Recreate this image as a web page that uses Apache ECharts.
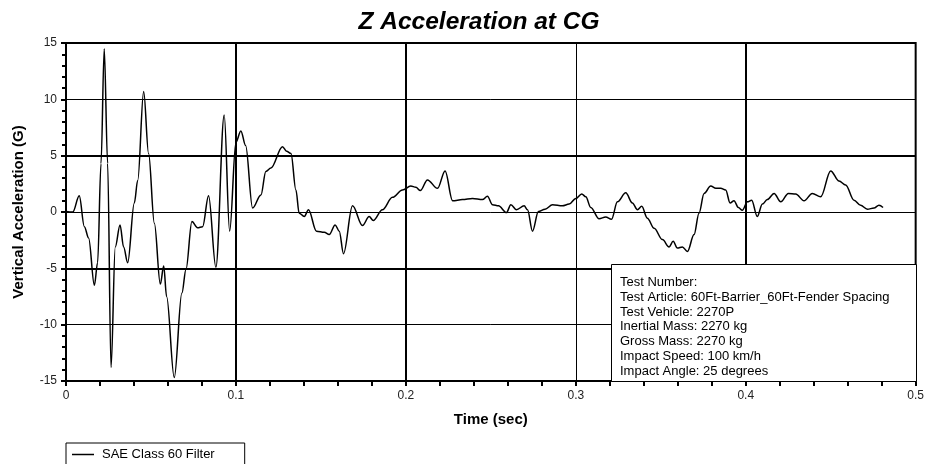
<!DOCTYPE html>
<html lang="en" style="height: 100%">
<head>
  <meta charset="UTF-8" />
  <title>Z Acceleration at CG</title>
  <script src="https://cdn.jsdelivr.net/npm/echarts@6/dist/echarts.min.js"></script>
</head>
<body style="height: 100%; margin: 0; background: #fff">
  <div id="container" style="width: 927px; height: 464px"></div>
  <script type="text/javascript">
    // time (sec) and vertical acceleration (G)
    var timeSec = [
      0, 0.004, 0.0078, 0.0108, 0.0133, 0.0167, 0.0186, 0.0206, 0.0225, 0.0245,
      0.0265, 0.029, 0.0318, 0.0339, 0.0363, 0.0402, 0.0422, 0.0457, 0.0486, 0.052,
      0.0555, 0.0575, 0.0592, 0.0637, 0.0682, 0.0706, 0.0741, 0.0774, 0.0804, 0.0839,
      0.0882, 0.0931, 0.0963, 0.1, 0.1029, 0.1057, 0.1098, 0.1147, 0.1176, 0.1206,
      0.1274, 0.1298, 0.1324, 0.1353, 0.1372, 0.1402, 0.1427, 0.1474, 0.152, 0.1549,
      0.1584, 0.1608, 0.1633, 0.1686, 0.1745, 0.1784, 0.1808, 0.1862, 0.1921, 0.198,
      0.2029, 0.2059, 0.2085, 0.2127, 0.2186, 0.2231, 0.2275, 0.2333, 0.2392, 0.2451,
      0.248, 0.251, 0.2545, 0.2592, 0.2618, 0.2651, 0.2696, 0.2716, 0.2745, 0.278,
      0.2819, 0.2863, 0.2921, 0.2961, 0.3, 0.3035, 0.3059, 0.3088, 0.3137, 0.3176,
      0.321, 0.3245, 0.3294, 0.3333, 0.3363, 0.3388, 0.3421, 0.3461, 0.351, 0.3549,
      0.3573, 0.3598, 0.3627, 0.3657, 0.3696, 0.3725, 0.3755, 0.3794, 0.3824, 0.3853,
      0.3882, 0.3908, 0.3931, 0.3957, 0.398, 0.401, 0.4035, 0.4068, 0.4098, 0.4127,
      0.4167, 0.4206, 0.4251, 0.4294, 0.4343, 0.4392, 0.4441, 0.45, 0.4549, 0.4588,
      0.4637, 0.4676, 0.4716, 0.4755, 0.4784, 0.4808
    ];
    var accelG = [
      0.05, 0, 1.44, -1.3, -2.3, -6.5, -4.5, 4.3, 14.5, 4.3,
      -13.8, -3.1, -1.15, -3.1, -4.5, 0.8, 2.8, 10.7, 5.2, -1.0,
      -6.4, -4.8, -7.5, -14.7, -7.2, -5.1, -0.85, -1.4, -1.3, 1.44,
      -4.9, 8.6, -1.7, 6.2, 7.2, 5.9, 0.35, 1.5, 3.6, 3.9,
      5.8, 5.4, 5.2, 1.95, -0.1, -0.4, 0.2, -1.7, -1.8, -2.0,
      -1.15, -1.7, -3.7, 0.55, -1.2, -0.4, -0.75, 0.2, 1.3, 1.95,
      2.3, 2.2, 1.9, 2.85, 2.1, 3.65, 1.0, 1.1, 1.2, 1.1,
      1.4, 0.65, 0.55, -0.05, 0.65, 0.2, 0.55, 0.2, -1.7, 0.05,
      0.25, 0.65, 0.55, 0.7, 1.2, 1.6, 1.35, 0.4, -0.6, -0.45,
      -0.65, 0.9, 1.7, 0.8, 0.2, 0.5, -0.55, -1.45, -2.45, -3.1,
      -2.6, -3.2, -3.1, -3.5, -2.0, -0.1, 1.65, 2.3, 2.1, 2.1,
      1.95, 0.8, 1.0, 0.4, 0.15, 0.9, 1.05, -0.4, 0.7, 1.1,
      1.65, 0.9, 1.65, 1.6, 1.0, 1.65, 1.35, 3.65, 2.75, 2.4,
      1.05, 0.6, 0.25, 0.35, 0.6, 0.4
    ];
    var thickXLines = [0.1, 0.2, 0.4];
    var thickYLines = [5, -5];
    var infoLines = [
      "Test Number:",
      "Test Article: 60Ft-Barrier_60Ft-Fender Spacing",
      "Test Vehicle: 2270P",
      "Inertial Mass: 2270 kg",
      "Gross Mass: 2270 kg",
      "Impact Speed: 100 km/h",
      "Impact Angle: 25 degrees"
    ];

    var font = "Liberation Sans, Arial, sans-serif";
    var dom = document.getElementById("container");
    var myChart = echarts.init(dom, null, { renderer: "canvas" });

    var seriesData = timeSec.map(function (t, i) { return [t, accelG[i]]; });
    var marks = [];
    thickXLines.forEach(function (v) { marks.push({ xAxis: v }); });
    thickYLines.forEach(function (v) { marks.push({ yAxis: v }); });

    var option = {
      animation: false,
      title: {
        text: "Z Acceleration at CG",
        left: 474, top: 5, textAlign: "center",
        textStyle: { fontFamily: font, fontSize: 24.5, fontWeight: "bold", fontStyle: "italic", color: "#000" }
      },
      grid: {
        left: 66, right: 10, top: 43, bottom: 83,
        show: true, borderColor: "#000", borderWidth: 2, backgroundColor: "transparent"
      },
      legend: {
        left: 66, top: 443,
        data: ["SAE Class 60 Filter"],
        icon: "rect", itemWidth: 22, itemHeight: 1.5, itemGap: 0,
        borderColor: "#000", borderWidth: 1, padding: [5, 30, 10, 6],
        textStyle: { fontFamily: font, fontSize: 13, color: "#000", padding: [0, 0, 0, 3] }
      },
      xAxis: {
        type: "value", min: 0, max: 0.5, interval: 0.1,
        name: "Time (sec)", nameLocation: "middle", nameGap: 31,
        nameTextStyle: { fontFamily: font, fontSize: 15, fontWeight: "bold", color: "#000" },
        axisLine: { onZero: false, lineStyle: { color: "#000", width: 2 } },
        axisTick: { show: true, length: 5, lineStyle: { color: "#000", width: 2 } },
        minorTick: { show: true, splitNumber: 5, length: 5, lineStyle: { color: "#000", width: 2 } },
        axisLabel: { fontFamily: font, fontSize: 12, color: "#222", margin: 9 },
        splitLine: { show: true, lineStyle: { color: "#000", width: 1 } }
      },
      yAxis: {
        type: "value", min: -15, max: 15, interval: 5,
        name: "Vertical Acceleration (G)", nameLocation: "middle", nameGap: 40, nameRotate: 90,
        nameTextStyle: { fontFamily: font, fontSize: 15, fontWeight: "bold", color: "#000" },
        axisLine: { onZero: false, lineStyle: { color: "#000", width: 2 } },
        axisTick: { show: true, length: 5, lineStyle: { color: "#000", width: 2 } },
        minorTick: { show: true, splitNumber: 5, length: 4, lineStyle: { color: "#000", width: 2 } },
        axisLabel: { fontFamily: font, fontSize: 12, color: "#222", margin: 9 },
        splitLine: { show: true, lineStyle: { color: "#000", width: 1 } }
      },
      series: [
        {
          name: "SAE Class 60 Filter",
          type: "line",
          data: seriesData,
          showSymbol: false,
          smooth: 0.35,
          smoothMonotone: "x",
          lineStyle: { color: "#000", width: 1.5 },
          itemStyle: { color: "#000" },
          z: 3,
          markLine: {
            silent: true, symbol: "none", label: { show: false },
            lineStyle: { color: "#000", width: 2, type: "solid" },
            data: marks
          }
        }
      ],
      graphic: [
        {
          type: "rect", left: 611, top: 264, z: 100,
          shape: { width: 305, height: 117 },
          style: { fill: "#fff", stroke: "#000", lineWidth: 1 }
        },
        {
          type: "text", left: 620, top: 275, z: 101,
          style: {
            text: infoLines.join("\n"),
            font: "13px Liberation Sans, Arial, sans-serif",
            lineHeight: 14.8, fill: "#000"
          }
        }
      ]
    };

    myChart.setOption(option);
  </script>
</body>
</html>
